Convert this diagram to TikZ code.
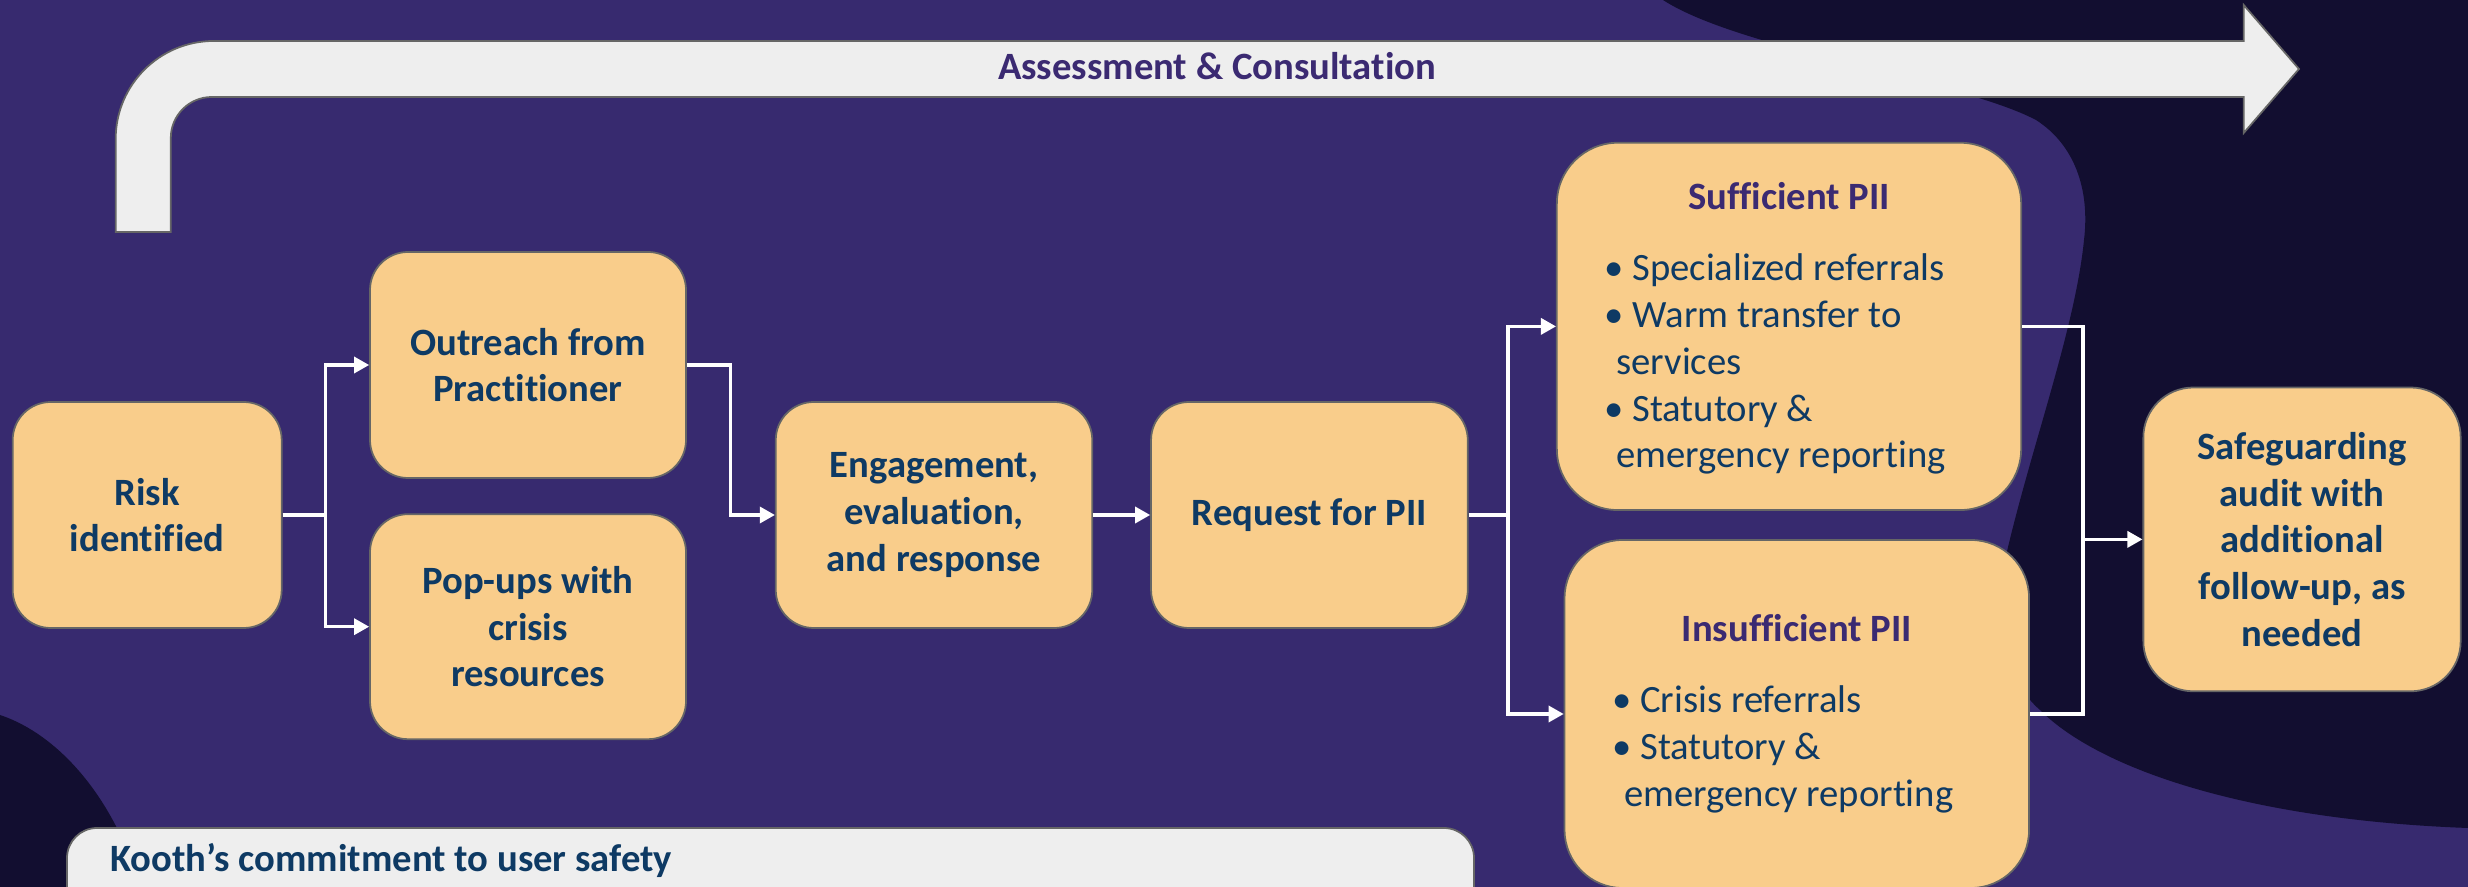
\documentclass[tikz,border=0pt]{standalone}
\usepackage{fontspec}
\setmainfont{Carlito}[Ligatures=NoCommon]
\usetikzlibrary{arrows.meta}

\definecolor{bgpurple}{HTML}{372A6F}
\definecolor{darknavy}{HTML}{120E30}
\definecolor{boxfill}{HTML}{F9CD8B}
\definecolor{boxline}{HTML}{666666}
\definecolor{textnavy}{HTML}{0E3A64}
\definecolor{titlepurple}{HTML}{3B2A72}
\definecolor{lightgrey}{HTML}{EEEEEE}

\newcommand{\boxfont}{\fontsize{11}{13.3}\selectfont}

\begin{document}
\begin{tikzpicture}[
    flowbox/.style={draw=boxline, line width=0.5pt, fill=boxfill, rounded corners=0.38cm,
      align=center, text=textnavy, font=\boxfont\bfseries, inner sep=0pt},
    wire/.style={draw=white, line width=0.9pt},
    link/.style={wire, -{Triangle[length=4.3pt,width=4.6pt]}}
]
    % Page area and background
    \useasboundingbox (0,0) rectangle (24.68,-8.87);
    \clip (0,0) rectangle (24.68,-8.87);
    \fill[bgpurple] (0,0) rectangle (24.68,-8.87);

    % Dark shapes behind the diagram
    \fill[darknavy] (16.63,0) .. controls (17.40,-0.50) and (19.60,-0.80) .. (20.36,-1.20)
        .. controls (20.75,-1.45) and (20.90,-1.90) .. (20.84,-2.40)
        .. controls (20.75,-3.30) and (20.30,-4.50) .. (20.05,-5.60)
        .. controls (19.95,-6.20) and (20.05,-6.80) .. (20.40,-7.10)
        .. controls (21.00,-7.70) and (22.50,-8.20) .. (24.68,-8.28)
        -- (24.68,0) -- cycle;
    \fill[darknavy] (0,-7.15) .. controls (0.60,-7.35) and (1.15,-8.00) .. (1.40,-8.87)
        -- (0,-8.87) -- cycle;

    % Bent arrow across the top
    \draw[draw=boxline, line width=0.5pt, fill=lightgrey]
        (1.157,-2.32) -- (1.157,-1.39) arc[start angle=180, end angle=90, radius=0.98]
        -- (22.437,-0.41) -- (22.437,-0.05) -- (22.99,-0.69) -- (22.437,-1.33)
        -- (22.437,-0.97) -- (2.118,-0.97) arc[start angle=90, end angle=180, radius=0.41]
        -- (1.708,-2.32) -- cycle;
    \node[font=\boxfont\bfseries, text=titlepurple, anchor=base] (assess) at (12.17,-0.80)
        {Assessment \& Consultation};

    % Bottom panel
    \draw[draw=boxline, line width=0.5pt, fill=lightgrey, rounded corners=0.3cm]
        (0.67,-8.28) rectangle (14.74,-9.50);
    \node[font=\boxfont\bfseries, text=textnavy, anchor=base west]
        (commit) at (0.98,-8.717) {Kooth’s commitment to user safety};

    % Process boxes
    \node[flowbox, minimum width=2.69cm, minimum height=2.26cm] (risk) at (1.472,-5.15)
        {Risk\\identified};
    \node[flowbox, minimum width=3.16cm, minimum height=2.26cm] (outreach) at (5.28,-3.65)
        {Outreach from\\Practitioner};
    \node[flowbox, minimum width=3.16cm, minimum height=2.25cm] (popups) at (5.28,-6.267)
        {Pop-ups with\\crisis\\resources};
    \node[flowbox, minimum width=3.165cm, minimum height=2.26cm] (engage) at (9.34,-5.15)
        {Engagement,\\evaluation,\\and response};
    \node[flowbox, minimum width=3.167cm, minimum height=2.26cm] (request) at (13.094,-5.15)
        {Request for PII};

    % Outcome boxes
    \node[flowbox, rounded corners=0.61cm, minimum width=4.643cm, minimum height=3.673cm]
        (suff) at (17.89,-3.264)
        {\rule{0pt}{11pt}{\color{titlepurple}Sufficient PII}\\[7pt]
         \mdseries\begin{tabular}[t]{@{}l@{\hspace{8pt}}}
           \textbullet\ Specialized referrals\\
           \textbullet\ Warm transfer to\\
           \hspace{3.4pt}services\\
           \textbullet\ Statutory \&\\
           \hspace{3.4pt}emergency reporting
         \end{tabular}};
    \node[flowbox, rounded corners=0.58cm, minimum width=4.645cm, minimum height=3.48cm]
        (insuff) at (17.968,-7.14)
        {\rule{0pt}{9.5pt}{\color{titlepurple}Insufficient PII}\\[7pt]
         \mdseries\begin{tabular}[t]{@{}l@{\hspace{8pt}}}
           \textbullet\ Crisis referrals\\
           \textbullet\ Statutory \&\\
           \hspace{3.4pt}emergency reporting
         \end{tabular}};
    \node[flowbox, rounded corners=0.5cm, minimum width=3.173cm, minimum height=3.038cm]
        (safe) at (23.02,-5.394)
        {Safeguarding\\audit with\\additional\\follow-up, as\\needed};

    % Connectors
    \draw[wire] (risk.east) -- ++(0.425,0) coordinate (fork1);
    \draw[link] (fork1) |- (outreach.west);
    \draw[link] (fork1) |- (popups.west);
    \draw[link] (outreach.east) -- ++(0.44,0) |- (engage.west);
    \draw[link] (engage.east) -- (request.west);
    \draw[wire] (request.east) -- ++(0.393,0) coordinate (fork2);
    \draw[link] (fork2) |- (suff.west);
    \draw[link] (fork2) |- (insuff.west);
    \draw[wire] (suff.east) -- ++(0.61,0) coordinate (join1) |- (insuff.east);
    \draw[link] (join1 |- safe.west) -- (safe.west);
\end{tikzpicture}
\end{document}
